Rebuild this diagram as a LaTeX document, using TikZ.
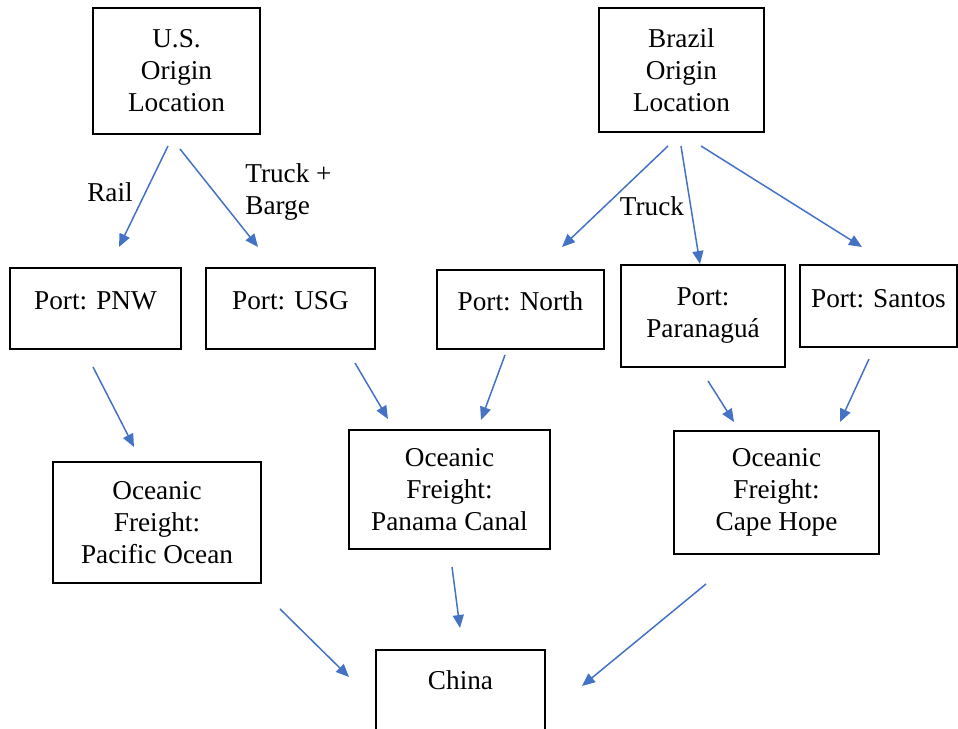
\documentclass[tikz,border=0pt]{standalone}
\usepackage{fontspec}
\setmainfont{Liberation Serif}
\newfontfamily\boxfont{Liberation Serif}
\usepackage{xcolor}
\usetikzlibrary{arrows.meta}
\definecolor{flowblue}{RGB}{68,114,196}

\begin{document}
\begin{tikzpicture}[x=0.02cm, y=-0.02cm,
    box/.style={draw, line width=0.9pt, align=center, inner sep=0pt,
        font=\boxfont\fontsize{15.5}{18.2}\selectfont},
    lbl/.style={align=left, inner sep=0pt, font=\boxfont\fontsize{15.5}{18.2}\selectfont},
    flow/.style={-{Triangle[length=0.26cm, width=0.22cm]}, line width=0.85pt, draw=flowblue, fill=flowblue},
    up/.style={text depth=0.32cm}]
    \useasboundingbox (0,0) rectangle (958,729);

    % Origins
    \node[box, minimum width=3.34cm, minimum height=2.52cm] (usorig) at (176.5,71) {U.S.\\Origin\\Location};
    \node[box, minimum width=3.30cm, minimum height=2.48cm] (brorig) at (681.5,70) {Brazil\\Origin\\Location};

    % Ports
    \node[box, up, minimum width=3.42cm, minimum height=1.62cm] (pnw) at (95.5,308.5) {Port: PNW};
    \node[box, up, minimum width=3.38cm, minimum height=1.62cm] (usg) at (290.5,308.5) {Port: USG};
    \node[box, up, minimum width=3.34cm, minimum height=1.58cm] (north) at (520.5,309.5) {Port: North};
    \node[box, minimum width=3.28cm, minimum height=2.04cm] (para) at (703,316) {Port:\\Paranagu\'a};
    \node[box, up, minimum width=3.14cm, minimum height=1.64cm] (santos) at (878.5,306) {Port: Santos};

    % Oceanic freight
    \node[box, minimum width=4.16cm, minimum height=2.42cm] (pacific) at (157,522.5) {Oceanic\\Freight:\\Pacific Ocean};
    \node[box, minimum width=4.02cm, minimum height=2.38cm] (panama) at (449.5,489.5) {Oceanic\\Freight:\\Panama Canal};
    \node[box, minimum width=4.10cm, minimum height=2.46cm] (cape) at (776.5,492.5) {Oceanic\\Freight:\\Cape Hope};

    % Destination
    \node[box, text depth=0.8cm, minimum width=3.38cm, minimum height=2.0cm] (china) at (460.5,700) {China};

    % Labels
    \node[lbl] (rail) at (110,192) {Rail};
    \node[lbl, anchor=west] (barge) at (245,192) {Truck +\\Barge};
    \node[lbl] (truck) at (652,206) {Truck};

    % Arrow ends
    \coordinate (a1s) at (168,146);  \coordinate (a1e) at (119,247);
    \coordinate (a2s) at (180,149);  \coordinate (a2e) at (258,247);
    \coordinate (a3s) at (668,146);  \coordinate (a3e) at (562,247);
    \coordinate (a4s) at (681,146);  \coordinate (a4e) at (700,264);
    \coordinate (a5s) at (701,146);  \coordinate (a5e) at (862,247);
    \coordinate (a6s) at (93,367);   \coordinate (a6e) at (134,447);
    \coordinate (a7s) at (355,363);  \coordinate (a7e) at (388,419);
    \coordinate (a8s) at (505,355);  \coordinate (a8e) at (481,420);
    \coordinate (a9s) at (708,381);  \coordinate (a9e) at (734,422);
    \coordinate (a10s) at (869,359); \coordinate (a10e) at (840,422);
    \coordinate (a11s) at (280,609); \coordinate (a11e) at (349,677);
    \coordinate (a12s) at (452,567); \coordinate (a12e) at (460,628);
    \coordinate (a13s) at (706,584); \coordinate (a13e) at (582,686);

    % Flows
    \foreach \i in {1,...,13}
        \draw[flow] (a\i s) -- (a\i e);
\end{tikzpicture}
\end{document}
